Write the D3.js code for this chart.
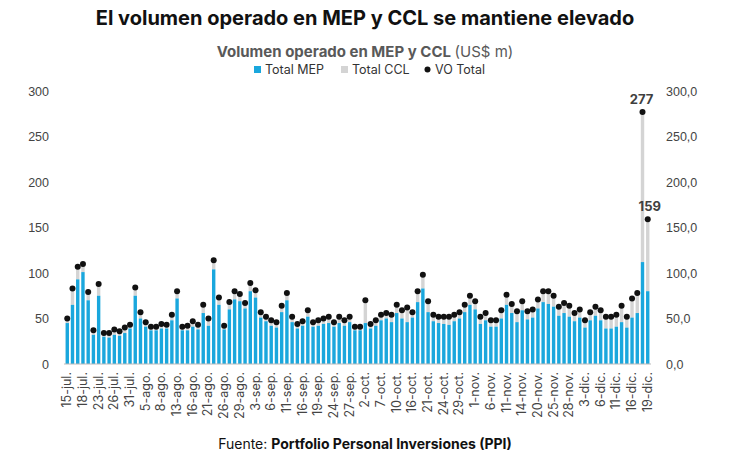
<!DOCTYPE html>
<html><head><meta charset="utf-8">
<script src="https://cdn.jsdelivr.net/npm/d3@7"></script>
<style>body{margin:0;background:#fff;font-family:Inter,"Noto Sans",sans-serif}</style>
</head><body><div class="view"></div>
<script>
const labels = ['15-jul.','18-jul.','23-jul.','26-jul.','31-jul.','5-ago.','8-ago.','13-ago.','16-ago.','21-ago.','26-ago.','29-ago.','3-sep.','6-sep.','11-sep.','16-sep.','19-sep.','24-sep.','27-sep.','2-oct.','7-oct.','10-oct.','16-oct.','21-oct.','24-oct.','29-oct.','1-nov.','6-nov.','11-nov.','14-nov.','20-nov.','25-nov.','28-nov.','3-dic.','6-dic.','11-dic.','16-dic.','19-dic.']
// VO Total per business day
const total = [50,83,107,110,79,37,88,34,34,38,36,40,43,84,57,46,41,41,44,43,54,80,41,42,47,43,65,50,114,73,42,68,80,77,67,89,81,57,52,48,46,64,78,52,44,47,59,46,48,50,52,46,52,48,52,41,41,70,44,48,54,56,54,65,59,62,57,80,98,69,54,52,52,52,54,57,65,75,69,52,56,48,48,59,76,66,58,69,58,60,71,80,80,75,63,67,64,56,60,48,57,63,59,52,52,54,64,52,72,78,277,159]
// Total CCL part
const ccl = [5,18,14,9,9,5,13,4,5,6,5,6,4,9,7,5,4,4,5,4,6,8,4,5,6,5,9,8,10,8,4,8,9,8,6,9,8,6,5,6,6,7,8,6,5,5,7,5,6,6,7,5,7,6,6,4,4,25,5,6,6,6,8,9,9,16,6,12,15,12,7,7,8,9,7,7,8,10,9,8,8,7,7,9,11,10,12,10,9,9,10,12,14,12,10,11,12,9,9,8,9,10,11,13,13,13,18,12,21,22,165,79]
const mep = total.map((t, i) => t - ccl[i])

const w = 730, h = 465
const m = {l: 64, r: 79, t: 91, b: 101}

const svg = d3.select('.view').append('svg').attr('width', w).attr('height', h)

svg.append('text').attr('x', w/2).attr('y', 25).attr('text-anchor', 'middle')
  .attr('font-size', 20).attr('font-weight', 700).attr('fill', '#111')
  .text('El volumen operado en MEP y CCL se mantiene elevado')

const sub = svg.append('text').attr('x', 365).attr('y', 57).attr('text-anchor', 'middle')
  .attr('font-size', 15).attr('fill', '#595959')
sub.append('tspan').attr('font-weight', 700).text('Volumen operado en MEP y CCL ')
sub.append('tspan').text('(US$ m)')

const x = d3.scaleBand().domain(d3.range(total.length)).range([m.l, w - m.r]).paddingInner(0.35).paddingOuter(0.3)
const y = d3.scaleLinear().domain([0, 300]).range([h - m.b, m.t])

// legend
const leg = [['Total MEP', '#1aa7dd', 'rect'], ['Total CCL', '#d4d4d4', 'rect'], ['VO Total', '#111', 'dot']]
const lx = [254, 341, 424]
leg.forEach((d, i) => {
  if (d[2] == 'rect') svg.append('rect').attr('x', lx[i]).attr('y', 66).attr('width', 7).attr('height', 7).attr('fill', d[1])
  else svg.append('circle').attr('cx', lx[i] + 3.5).attr('cy', 69.5).attr('r', 3).attr('fill', d[1])
  svg.append('text').attr('x', lx[i] + 11).attr('y', 74).attr('font-size', 12.5).attr('fill', '#333').text(d[0])
})

// axes
const yl = svg.append('g').attr('transform', 'translate(' + (m.l - 12) + ',0)')
  .call(d3.axisLeft(y).tickValues(d3.range(0, 301, 50)).tickSize(0))
const yr = svg.append('g').attr('transform', 'translate(' + (w - m.r + 12) + ',0)')
  .call(d3.axisRight(y).tickValues(d3.range(0, 301, 50)).tickSize(0).tickFormat(d => d3.format('.1f')(d).replace('.', ',')))
;[yl, yr].forEach(g => { g.select('.domain').remove(); g.selectAll('text').attr('font-size', 12.5).attr('fill', '#444') })

const g = svg.append('g')
g.selectAll('.ccl').data(total).enter().append('rect')
  .attr('x', (d, i) => x(i)).attr('width', x.bandwidth())
  .attr('y', d => y(d)).attr('height', (d, i) => y(mep[i]) - y(d)).attr('fill', '#d4d4d4')
g.selectAll('.mep').data(mep).enter().append('rect')
  .attr('x', (d, i) => x(i)).attr('width', x.bandwidth())
  .attr('y', d => y(d)).attr('height', d => y(0) - y(d)).attr('fill', '#1aa7dd')
g.selectAll('circle').data(total).enter().append('circle')
  .attr('cx', (d, i) => x(i) + x.bandwidth()/2).attr('cy', d => y(d)).attr('r', 3).attr('fill', '#111')

svg.append('line').attr('x1', m.l).attr('x2', w - m.r).attr('y1', y(0)).attr('y2', y(0)).attr('stroke', '#bbb')

const n = total.length
;[[n - 2, '277', -8], [n - 1, '159', -8]].forEach(d => {
  svg.append('text').attr('x', x(d[0]) + x.bandwidth()/2 + (d[0] == n - 1 ? 2 : -1)).attr('y', y(total[d[0]]) + d[2])
    .attr('text-anchor', 'middle').attr('font-size', 13).attr('font-weight', 700).attr('fill', '#404040').text(d[1])
})

// x labels every 3rd day
svg.selectAll('.xl').data(labels).enter().append('text')
  .attr('transform', (d, i) => 'translate(' + (x(i * 3) + x.bandwidth()/2 + 4) + ',' + (y(0) + 8) + ') rotate(-90)')
  .attr('text-anchor', 'end').attr('font-size', 12.5).attr('fill', '#444').text(d => d)

const src = svg.append('text').attr('x', 365).attr('y', 449).attr('text-anchor', 'middle').attr('font-size', 14).attr('fill', '#111')
src.append('tspan').text('Fuente: ')
src.append('tspan').attr('font-weight', 700).text('Portfolio Personal Inversiones (PPI)')
</script></body></html>
